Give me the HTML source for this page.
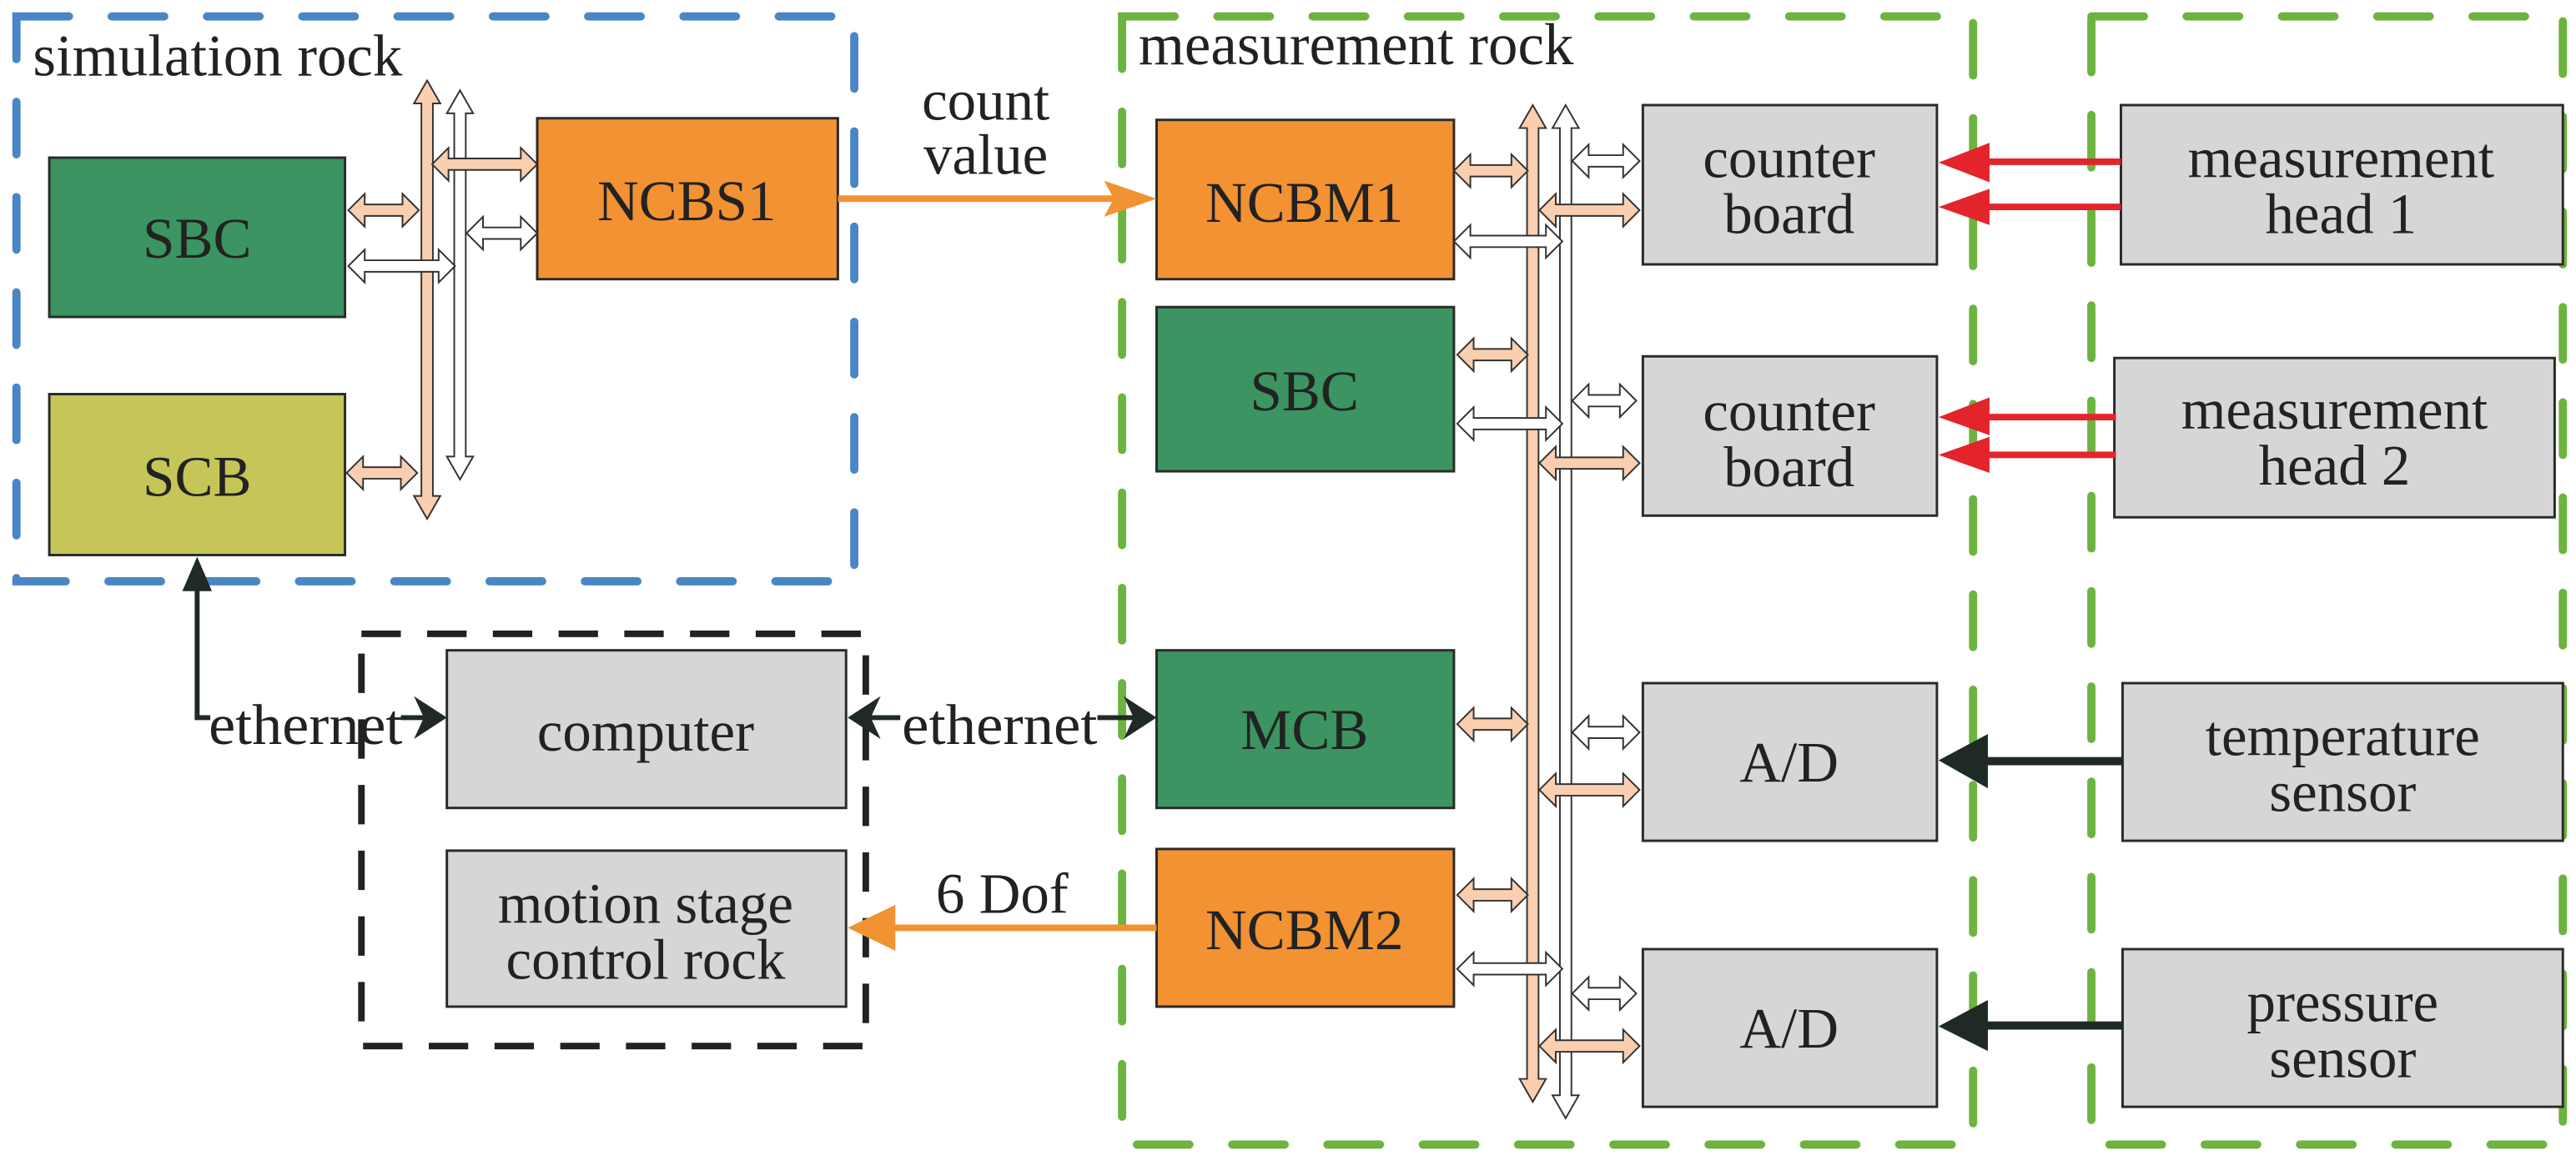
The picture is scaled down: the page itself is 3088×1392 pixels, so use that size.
<!DOCTYPE html>
<html><head><meta charset="utf-8"><style>
html,body{margin:0;padding:0;background:#fff;}
svg{display:block;}
text{font-family:"Liberation Serif",serif;fill:#222;}
</style></head><body>
<svg width="3088" height="1392" viewBox="0 0 1568 707" preserveAspectRatio="none" xmlns="http://www.w3.org/2000/svg">
<rect width="1568" height="707" fill="#fff"/>
<rect x="10" y="10" width="510" height="344" fill="none" stroke="#4a86c5" stroke-width="5" stroke-dasharray="32 26" stroke-linecap="round"/>
<rect x="683" y="10" width="518" height="687" fill="none" stroke="#6db33f" stroke-width="5" stroke-dasharray="32 26" stroke-linecap="round"/>
<rect x="1273" y="10" width="287" height="687" fill="none" stroke="#6db33f" stroke-width="5" stroke-dasharray="32 26" stroke-linecap="round"/>
<rect x="220" y="386" width="307" height="251" fill="none" stroke="#222" stroke-width="4" stroke-dasharray="24 16"/>

<text x="20" y="46" font-size="36">simulation rock</text>
<text x="693" y="39" font-size="36">measurement rock</text>

<g stroke="#2a2a2a" stroke-width="1.5">
<rect x="30" y="96" width="180" height="97" fill="#3b9461"/>
<rect x="30" y="240" width="180" height="98" fill="#c6c658"/>
<rect x="327" y="72" width="183" height="98" fill="#f29232"/>
<rect x="704" y="73" width="181" height="97" fill="#f29232"/>
<rect x="704" y="187" width="181" height="100" fill="#3b9461"/>
<rect x="704" y="396" width="181" height="96" fill="#3b9461"/>
<rect x="704" y="517" width="181" height="96" fill="#f29232"/>
<rect x="1000" y="64" width="179" height="97" fill="#d6d6d6"/>
<rect x="1000" y="217" width="179" height="97" fill="#d6d6d6"/>
<rect x="1000" y="416" width="179" height="96" fill="#d6d6d6"/>
<rect x="1000" y="578" width="179" height="96" fill="#d6d6d6"/>
<rect x="1291" y="64" width="269" height="97" fill="#d6d6d6"/>
<rect x="1287" y="218" width="268" height="97" fill="#d6d6d6"/>
<rect x="1292" y="416" width="268" height="96" fill="#d6d6d6"/>
<rect x="1292" y="578" width="268" height="96" fill="#d6d6d6"/>
<rect x="272" y="396" width="243" height="96" fill="#d6d6d6"/>
<rect x="272" y="518" width="243" height="95" fill="#d6d6d6"/>
</g>

<g font-size="35" text-anchor="middle">
<text x="120" y="157">SBC</text>
<text x="120" y="302">SCB</text>
<text x="418" y="134">NCBS1</text>
<text x="794" y="135">NCBM1</text>
<text x="794" y="250">SBC</text>
<text x="794" y="456">MCB</text>
<text x="794" y="578">NCBM2</text>
<text x="1089" y="108">counter</text>
<text x="1089" y="142">board</text>
<text x="1089" y="262">counter</text>
<text x="1089" y="296">board</text>
<text x="1089" y="476">A/D</text>
<text x="1089" y="638">A/D</text>
<text x="1425" y="108">measurement</text>
<text x="1425" y="142">head 1</text>
<text x="1421" y="261">measurement</text>
<text x="1421" y="295">head 2</text>
<text x="1426" y="460">temperature</text>
<text x="1426" y="494">sensor</text>
<text x="1426" y="622">pressure</text>
<text x="1426" y="656">sensor</text>
<text x="393" y="457">computer</text>
<text x="393" y="562">motion stage</text>
<text x="393" y="596">control rock</text>
<text x="600" y="73">count</text>
<text x="600" y="106">value</text>
<text x="610" y="556">6 Dof</text>
</g>

<g stroke="#333" stroke-width="1">
<polygon fill="#f9cfb0" points="260,49 268,63 263.5,63 263.5,302 268,302 260,316 252,302 256.5,302 256.5,63 252,63"/>
<polygon fill="#fff" points="280,55 288,69 283.5,69 283.5,278 288,278 280,292 272,278 276.5,278 276.5,69 272,69"/>
<polygon fill="#f9cfb0" points="933,64 941,78 936.5,78 936.5,657 941,657 933,671 925,657 929.5,657 929.5,78 925,78"/>
<polygon fill="#fff" points="953,64 961,78 956.5,78 956.5,667 961,667 953,681 945,667 949.5,667 949.5,78 945,78"/>
</g>

<g stroke="#333" stroke-width="1">
<polygon fill="#f9cfb0" points="212,128 222,118 222,124.5 245,124.5 245,118 255,128 245,138 245,131.5 222,131.5 222,138"/>
<polygon fill="#fff" points="212,162 222,152 222,158.5 267,158.5 267,152 277,162 267,172 267,165.5 222,165.5 222,172"/>
<polygon fill="#f9cfb0" points="263,100 273,90 273,96.5 317,96.5 317,90 327,100 317,110 317,103.5 273,103.5 273,110"/>
<polygon fill="#fff" points="284,142 294,132 294,138.5 317,138.5 317,132 327,142 317,152 317,145.5 294,145.5 294,152"/>
<polygon fill="#f9cfb0" points="211,288 221,278 221,284.5 244,284.5 244,278 254,288 244,298 244,291.5 221,291.5 221,298"/>

<polygon fill="#f9cfb0" points="885,104 895,94 895,100.5 920,100.5 920,94 930,104 920,114 920,107.5 895,107.5 895,114"/>
<polygon fill="#fff" points="885,147 895,137 895,143.5 941,143.5 941,137 951,147 941,157 941,150.5 895,150.5 895,157"/>
<polygon fill="#fff" points="957,98 967,88 967,94.5 988,94.5 988,88 998,98 988,108 988,101.5 967,101.5 967,108"/>
<polygon fill="#f9cfb0" points="937,128 947,118 947,124.5 988,124.5 988,118 998,128 988,138 988,131.5 947,131.5 947,138"/>
<polygon fill="#f9cfb0" points="887,216 897,206 897,212.5 920,212.5 920,206 930,216 920,226 920,219.5 897,219.5 897,226"/>
<polygon fill="#fff" points="887,258 897,248 897,254.5 941,254.5 941,248 951,258 941,268 941,261.5 897,261.5 897,268"/>
<polygon fill="#fff" points="957,244 967,234 967,240.5 986,240.5 986,234 996,244 986,254 986,247.5 967,247.5 967,254"/>
<polygon fill="#f9cfb0" points="937,282 947,272 947,278.5 988,278.5 988,272 998,282 988,292 988,285.5 947,285.5 947,292"/>
<polygon fill="#f9cfb0" points="887,441 897,431 897,437.5 920,437.5 920,431 930,441 920,451 920,444.5 897,444.5 897,451"/>
<polygon fill="#fff" points="957,446 967,436 967,442.5 988,442.5 988,436 998,446 988,456 988,449.5 967,449.5 967,456"/>
<polygon fill="#f9cfb0" points="937,481 947,471 947,477.5 988,477.5 988,471 998,481 988,491 988,484.5 947,484.5 947,491"/>
<polygon fill="#f9cfb0" points="887,545 897,535 897,541.5 920,541.5 920,535 930,545 920,555 920,548.5 897,548.5 897,555"/>
<polygon fill="#fff" points="887,590 897,580 897,586.5 941,586.5 941,580 951,590 941,600 941,593.5 897,593.5 897,600"/>
<polygon fill="#fff" points="957,605 967,595 967,601.5 986,601.5 986,595 996,605 986,615 986,608.5 967,608.5 967,615"/>
<polygon fill="#f9cfb0" points="937,637 947,627 947,633.5 988,633.5 988,627 998,637 988,647 988,640.5 947,640.5 947,647"/>
</g>

<line x1="510" y1="121" x2="680" y2="121" stroke="#f29232" stroke-width="4"/>
<polygon fill="#f29232" points="704,121 672,110 678,121 672,132"/>
<line x1="704" y1="565" x2="540" y2="565" stroke="#f29232" stroke-width="4"/>
<polygon fill="#f29232" points="516,565 545,551 545,579"/>

<g fill="#e3242b" stroke="none">
<rect x="1210" y="96.5" width="81" height="4"/><polygon points="1180,99 1211,87 1211,111"/>
<rect x="1210" y="124" width="81" height="4"/><polygon points="1180,126 1211,115 1211,137"/>
<rect x="1210" y="252" width="78" height="4"/><polygon points="1180,254 1211,242 1211,265"/>
<rect x="1210" y="275" width="78" height="4"/><polygon points="1180,277 1211,266 1211,288"/>
</g>

<g fill="#1f2a24">
<rect x="1205" y="461" width="87" height="5"/><polygon points="1180,463 1210,447 1210,480"/>
<rect x="1205" y="622" width="87" height="5"/><polygon points="1180,625 1210,609 1210,640"/>
<polygon points="120,339 111,360 129,360"/>
<polygon points="272,437 252,424 258,437 252,450"/>
<polygon points="516,437 536,424 530,437 536,450"/>
<polygon points="704,437 684,424 690,437 684,450"/>
</g>
<polyline points="120,350 120,437 128,437" fill="none" stroke="#1f2a24" stroke-width="3"/>
<line x1="244" y1="437" x2="258" y2="437" stroke="#1f2a24" stroke-width="3"/>
<line x1="530" y1="437" x2="548" y2="437" stroke="#1f2a24" stroke-width="3"/>
<line x1="668" y1="437" x2="690" y2="437" stroke="#1f2a24" stroke-width="3"/>
<text x="127" y="453" font-size="35" textLength="118" lengthAdjust="spacingAndGlyphs">ethernet</text>
<text x="549" y="453" font-size="35" textLength="119" lengthAdjust="spacingAndGlyphs">ethernet</text>
</svg>
</body></html>
